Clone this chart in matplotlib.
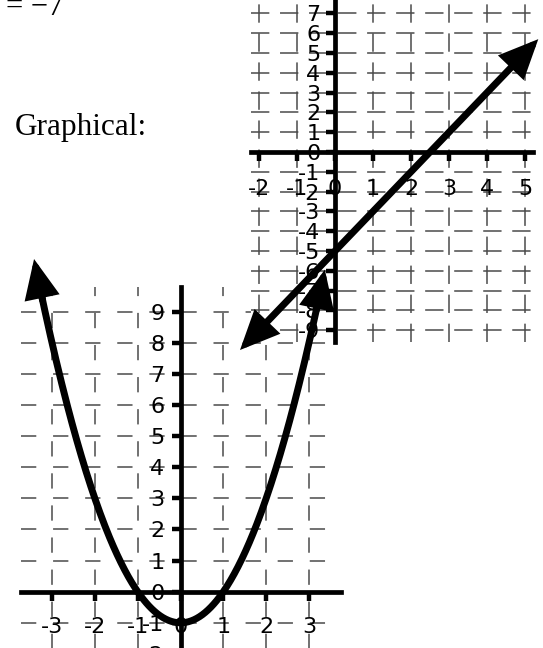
import numpy as np
import matplotlib
matplotlib.use("Agg")
import matplotlib.pyplot as plt
from matplotlib.patches import FancyArrowPatch

plt.rcParams['axes.unicode_minus'] = False

# ---- data ----
# top-right graph: straight line y = 2x - 5
line_coef = [2, -5]
line_x_ends = [-2.5, 5.35]
top_xticks = [-2, -1, 0, 1, 2, 3, 4, 5]
top_yticks = [-9, -8, -7, -6, -5, -4, -3, -2, -1, 0, 1, 2, 3, 4, 5, 6, 7]

# bottom-left graph: parabola y = x^2 - 1
parab_coef = [1, 0, -1]
parab_x_ends = [-3.42, 3.37]
bot_xticks = [-3, -2, -1, 0, 1, 2, 3]
bot_yticks = [-2, -1, 0, 1, 2, 3, 4, 5, 6, 7, 8, 9]

header_text = "= \u22127"
label_text = "Graphical:"

W, H = 543, 648
fig = plt.figure(figsize=(W / 100, H / 100), dpi=100)


def px_axes(l, r, t, b, z):
    ax = fig.add_axes([l / W, 1 - b / H, (r - l) / W, (b - t) / H], zorder=z)
    return ax


def style_axes(ax, xlim, ylim, xt, yt, xpad, ypad, dash):
    ax.set_xlim(*xlim)
    ax.set_ylim(*ylim)
    ax.patch.set_alpha(0)
    for s in ['top', 'right']:
        ax.spines[s].set_visible(False)
    ax.spines['left'].set_position(('data', 0))
    ax.spines['bottom'].set_position(('data', 0))
    for s in ['left', 'bottom']:
        ax.spines[s].set_linewidth(3.4)
        ax.spines[s].set_zorder(3)
    ax.set_xticks(xt)
    ax.set_yticks(yt)
    ax.set_xticklabels([str(v) for v in xt], fontsize=16, family='DejaVu Sans')
    ax.set_yticklabels([str(v) for v in yt], fontsize=16, family='DejaVu Sans')
    ax.tick_params(axis='both', direction='out', length=6.5, width=3.2)
    ax.tick_params(axis='x', pad=xpad)
    ax.tick_params(axis='y', pad=ypad)
    for v in range(int(np.ceil(xlim[0])), int(np.floor(xlim[1])) + 1):
        if v != 0:
            ax.axvline(v, color='#4a4a4a', lw=1.1, ls=(0, dash), zorder=1)
    for v in range(int(np.ceil(ylim[0])), int(np.floor(ylim[1])) + 1):
        if v != 0:
            ax.axhline(v, color='#4a4a4a', lw=1.1, ls=(0, dash), zorder=1)


# bottom-left axes (parabola)
ax2 = px_axes(21.2, 341.1, 286.9, 653.9, 1)
style_axes(ax2, (-3.72, 3.75), (-2.0, 9.8), bot_xticks, bot_yticks, 12, 5, (10, 11))

# top-right axes (line)
ax1 = px_axes(251.4, 532.6, -2.44, 342.1, 2)
ax1.set_facecolor('white')
style_axes(ax1, (-2.2, 5.2), (-9.6, 7.8), top_xticks, top_yticks, 13, 4, (12, 7))
ax1.patch.set_alpha(1)

# overlay for curves
ov = fig.add_axes([0, 0, 1, 1], zorder=10)
ov.set_axis_off()
ov.patch.set_alpha(0)
ov.set_xlim(0, W)
ov.set_ylim(H, 0)

ahead = '-|>,head_length=2.0,head_width=0.9'

# line with two arrowheads
lx = np.array(line_x_ends)
ly = np.polyval(line_coef, lx)
arr = FancyArrowPatch((lx[0], ly[0]), (lx[1], ly[1]), transform=ax1.transData,
                      arrowstyle='<|-|>,head_length=2.0,head_width=0.9',
                      mutation_scale=10, lw=5.0, color='black',
                      shrinkA=0, shrinkB=0, joinstyle='miter')
arr.set_clip_on(False)
ov.add_patch(arr)

# parabola
px = np.linspace(parab_x_ends[0] + 0.12, parab_x_ends[1] - 0.12, 300)
py = np.polyval(parab_coef, px)
ov.plot(px, py, transform=ax2.transData, color='black', lw=5.0,
        solid_capstyle='butt', clip_on=False)
for xe, d in [(parab_x_ends[0], 0.2), (parab_x_ends[1], -0.2)]:
    xa = xe + d
    a = FancyArrowPatch((xa, np.polyval(parab_coef, xa)), (xe, np.polyval(parab_coef, xe)),
                        transform=ax2.transData, arrowstyle=ahead,
                        mutation_scale=10, lw=5.0, color='black',
                        shrinkA=0, shrinkB=0, joinstyle='miter')
    a.set_clip_on(False)
    ov.add_patch(a)

# texts
ov.text(6, 15, header_text, fontsize=22, family='Liberation Serif',
        va='baseline', ha='left')
ov.text(15, 135, label_text, fontsize=22.5, family='Liberation Serif',
        va='baseline', ha='left')

fig.savefig('out.png', dpi=100)
